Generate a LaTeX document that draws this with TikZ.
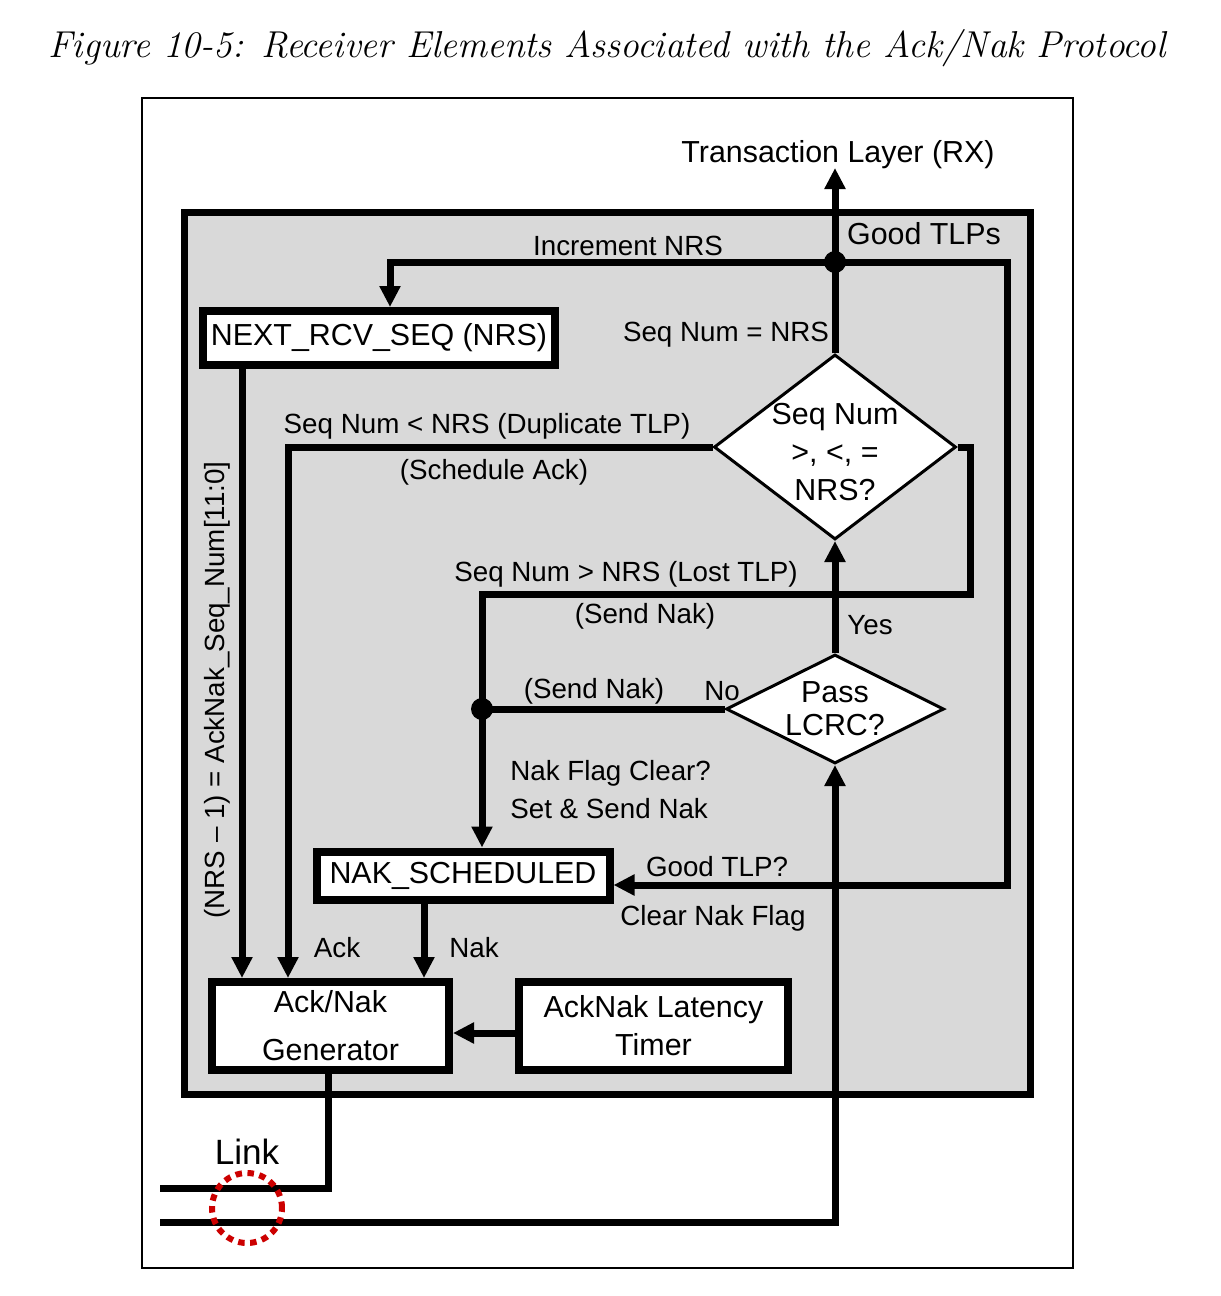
\documentclass[tikz,border=0pt]{standalone}
\usepackage{fontspec}
\newfontfamily\arial{Liberation Sans}
\usepackage{tikz}
\usetikzlibrary{positioning, calc, shapes.geometric, arrows.meta}
\tikzset{
	block/.style={
		draw,
		fill=white,
		line width=0.16cm,
		inner sep=0pt,
		align=center,
		font=\arial\fontsize{17.3}{21.6}\selectfont
	},
	decision/.style={
		draw,
		diamond,
		fill=white,
		line width=0.06cm,
		inner sep=-0.4cm,
		align=center,
		font=\arial\fontsize{17.3}{21.6}\selectfont
	}
}
\definecolor{boxgray}{RGB}{217,217,217}
\definecolor{linkred}{RGB}{204,0,0}

\begin{document}
\begin{tikzpicture}
	\tikzset{lbl/.style={inner sep=0pt,font=\arial\fontsize{15.8}{19}\selectfont}}
	\tikzset{biglbl/.style={inner sep=0pt,font=\arial\fontsize{17.3}{21}\selectfont}}
	\tikzset{edge/.style={-{Triangle[length=0.42cm,width=0.4cm]}, line width=0.14cm}}
	\tikzset{wire/.style={line width=0.14cm}}
	
	\useasboundingbox (0,0) rectangle (24.42,-25.92);
	
	\node(title) at (12.14,-0.96) [font=\itshape\fontsize{21.3}{25}\selectfont] {Figure 10-5: Receiver Elements Associated with the Ack/Nak Protocol};
	
	\draw[line width=0.04cm] (2.84,-1.96) rectangle (21.46,-25.36);
	\draw[line width=0.14cm, fill=boxgray] (3.68,-4.24) rectangle (20.6,-21.88);
	
	\node(tl) at (16.76,-3.1) [biglbl] {Transaction Layer (RX)};
	
	\node(nrs) at (7.58,-6.76) [block, minimum width=7.04cm, minimum height=1.08cm] {NEXT\_RCV\_SEQ (NRS)};
	\node(nak) at (9.26,-17.51) [block, minimum width=5.86cm, minimum height=0.96cm] {NAK\_SCHEDULED};
	\node(gen) at (6.61,-20.52) [block, minimum width=4.74cm, minimum height=1.76cm] {Ack/Nak\\[5.7pt]Generator};
	\node(timer) at (13.07,-20.52) [block, minimum width=5.38cm, minimum height=1.76cm] {AckNak Latency\\Timer};
	
	\node(seqchk) at (16.7,-8.94) [decision, minimum width=4.84cm, minimum height=3.7cm] {\raisebox{-0.16cm}[\height][\depth]{\begin{tabular}{@{}c@{}}Seq Num\\>, <, =\\NRS?\end{tabular}}};
	\node(lcrc) at (16.7,-14.18) [decision, minimum width=4.36cm, minimum height=2.18cm] {Pass\\[-2.8pt]LCRC?};
	
	\coordinate(jtop) at (16.7,-5.24);
	\coordinate(incr) at (7.8,-5.24);
	\coordinate(gtlp) at (20.14,-5.24);
	\coordinate(gtlpdown) at (20.14,-17.7);
	\coordinate(lost) at (19.4,-8.94);
	\coordinate(lostdown) at (19.4,-11.88);
	\coordinate(lostleft) at (9.64,-11.88);
	\coordinate(jnak) at (9.64,-14.18);
	\coordinate(dup) at (5.76,-8.94);
	\coordinate(acknum) at (4.84,-6.76);
	\coordinate(nakout) at (8.48,-17.51);
	\coordinate(genout) at (6.56,-20.52);
	\coordinate(linkup) at (3.2,-23.76);
	\coordinate(linkdn) at (3.2,-24.44);
	\coordinate(rxturn) at (16.7,-24.44);
	\coordinate(tmr) at (13.07,-20.66);
	
	\draw[edge] (seqchk.north) -- (jtop) -- (16.7,-3.36);
	\draw[edge] (jtop) -- (incr) -- (incr |- nrs.north);
	\draw[edge] (jtop) -- (gtlp) -- (gtlpdown) -- (nak.east |- gtlpdown);
	\draw[edge] (seqchk.east) -- (lost) -- (lostdown) -- (lostleft) -- (lostleft |- nak.north);
	\draw[edge] (seqchk.west) -- (dup) -- (dup |- gen.north);
	\draw[edge] (lcrc.north) -- (seqchk.south);
	\draw[wire] (lcrc.west) -- (jnak);
	\draw[edge] (nrs.south -| acknum) -- (acknum |- gen.north);
	\draw[edge] (nak.south -| nakout) -- (nakout |- gen.north);
	\draw[edge] (timer.west |- tmr) -- (gen.east |- tmr);
	\draw[wire] (gen.south -| genout) -- (genout |- linkup) -- (linkup);
	\draw[edge] (linkdn) -- (rxturn) -- (lcrc.south);
	
	\fill (jtop) circle (0.22);
	\fill (jnak) circle (0.22);
	
	\node(incrlbl) at (12.56,-4.92) [lbl] {Increment NRS};
	\node(goodlbl) at (18.48,-4.68) [biglbl] {Good TLPs};
	\node(eqlbl) at (14.52,-6.7) [lbl] {Seq Num = NRS};
	\node(duplbl) at (9.74,-8.52) [lbl] {Seq Num < NRS (Duplicate TLP)};
	\node(schedlbl) at (9.88,-9.44) [lbl] {(Schedule Ack)};
	\node(lostlbl) at (12.52,-11.48) [lbl] {Seq Num > NRS (Lost TLP)};
	\node(sendlbl) at (12.9,-12.32) [lbl] {(Send Nak)};
	\node(yeslbl) at (17.4,-12.5) [lbl] {Yes};
	\node(send2lbl) at (11.88,-13.82) [lbl] {(Send Nak)};
	\node(nolbl) at (14.44,-13.82) [lbl] {No};
	\node(flaglbl) at (10.2,-15.46) [lbl, anchor=west] {Nak Flag Clear?};
	\node(setlbl) at (10.2,-16.18) [lbl, anchor=west] {Set \& Send Nak};
	\node(gtlplbl) at (14.34,-17.34) [lbl] {Good TLP?};
	\node(clrlbl) at (14.26,-18.36) [lbl] {Clear Nak Flag};
	\node(acklbl) at (6.74,-18.96) [lbl] {Ack};
	\node(naklbl) at (9.48,-18.96) [lbl] {Nak};
	\node(numlbl) at (4.34,-13.8) [lbl, rotate=90] {(NRS – 1) = AckNak\_Seq\_Num[11:0]};
	
	\node(linklbl) at (4.94,-23.04) [inner sep=0pt, font=\arial\fontsize{20}{24}\selectfont] {Link};
	\draw[linkred, line width=0.12cm, dash pattern=on 0.13cm off 0.11cm] (4.94,-24.16) circle (0.7);
	
\end{tikzpicture}
\end{document}
